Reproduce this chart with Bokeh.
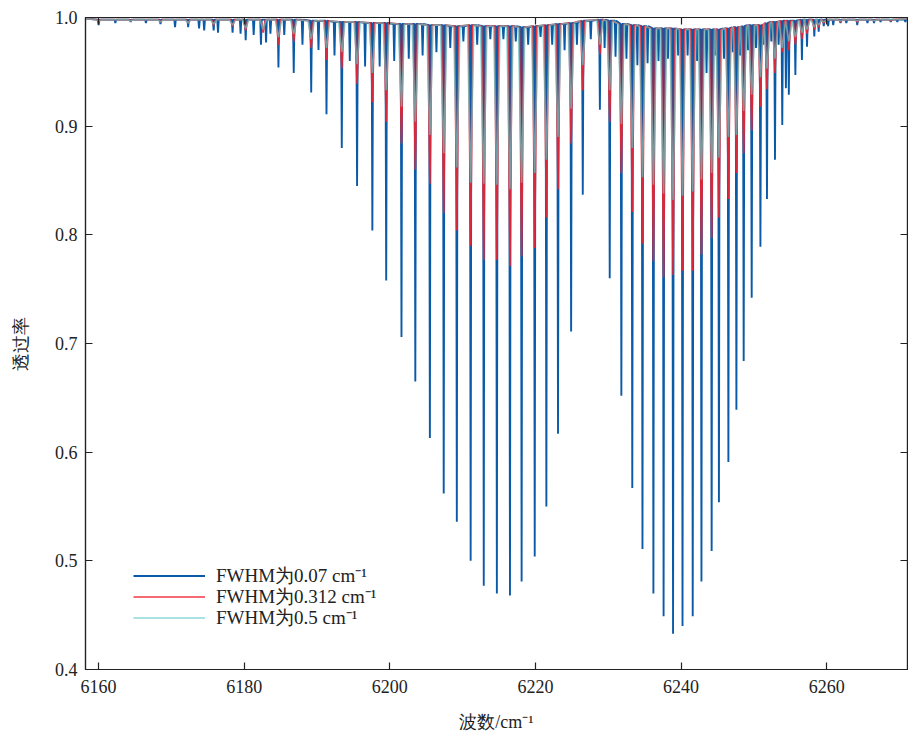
from bokeh.plotting import figure
from bokeh.models import (LinearAxis, FixedTicker, PrintfTickFormatter, Range1d, Legend,
                          LegendItem, CustomJSTickFormatter)
from bokeh.embed import file_html
from bokeh.resources import INLINE

# ---------------- data ----------------
# main absorption lines: wavenumber (cm^-1) and minimum transmittance per FWHM
line_nu = [6184.7, 6186.8, 6189.2, 6191.3, 6193.4, 6195.5, 6197.6, 6199.5, 6201.6, 6203.5,
           6205.5, 6207.4, 6209.2, 6211.1, 6212.9, 6214.7, 6216.5, 6218.1, 6219.9, 6221.5,
           6223.1, 6224.9, 6226.5, 6228.85,
           6230.2, 6231.8, 6233.3, 6234.7, 6236.2, 6237.6, 6238.9, 6240.2, 6241.6, 6242.8,
           6244.2, 6245.2, 6246.5, 6247.6, 6248.6, 6249.7, 6250.9, 6251.8, 6252.9, 6253.9,
           6254.8, 6255.7, 6256.6, 6257.3, 6258.3, 6258.9]
# local maxima of the spectrum next to each main line
line_top = [0.998, 0.998, 0.997, 0.997, 0.996, 0.996, 0.995, 0.995, 0.994, 0.994,
            0.993, 0.993, 0.992, 0.993, 0.992, 0.992, 0.992, 0.991, 0.992, 0.993,
            0.994, 0.995, 0.997, 0.998,
            0.997, 0.994, 0.993, 0.992, 0.990, 0.990, 0.990, 0.989, 0.989, 0.989,
            0.989, 0.989, 0.990, 0.991, 0.992, 0.993, 0.993, 0.995, 0.996, 0.997,
            0.997, 0.997, 0.998, 0.998, 0.998, 0.998]
t_007 = [0.954, 0.949, 0.931, 0.911, 0.880, 0.845, 0.804, 0.758, 0.706, 0.665,
         0.613, 0.562, 0.536, 0.500, 0.477, 0.470, 0.468, 0.481, 0.504, 0.550,
         0.617, 0.711, 0.837, 0.915,
         0.760, 0.652, 0.567, 0.511, 0.470, 0.449, 0.433, 0.440, 0.449, 0.481,
         0.509, 0.554, 0.591, 0.639, 0.684, 0.742, 0.789, 0.833, 0.869, 0.901,
         0.929, 0.947, 0.961, 0.973, 0.9825, 0.987]
t_0312 = [0.975, 0.978, 0.972, 0.961, 0.953, 0.939, 0.922, 0.904, 0.884, 0.860,
          0.847, 0.820, 0.804, 0.790, 0.777, 0.777, 0.771, 0.780, 0.788, 0.816,
          0.842, 0.884, 0.933, 0.966,
          0.904, 0.857, 0.821, 0.792, 0.776, 0.761, 0.763, 0.767, 0.767, 0.782,
          0.797, 0.816, 0.833, 0.857, 0.875, 0.896, 0.918, 0.934, 0.949, 0.968,
          0.970, 0.975, 0.980, 0.985, 0.989, 0.991]
t_05 = [0.982, 0.985, 0.980, 0.972, 0.968, 0.957, 0.949, 0.933, 0.918, 0.904,
        0.892, 0.875, 0.862, 0.848, 0.847, 0.846, 0.842, 0.848, 0.857, 0.869,
        0.890, 0.916, 0.956, 0.975,
        0.933, 0.902, 0.880, 0.853, 0.846, 0.838, 0.832, 0.836, 0.840, 0.851,
        0.857, 0.871, 0.890, 0.892, 0.914, 0.929, 0.945, 0.953, 0.962, 0.972,
        0.978, 0.982, 0.986, 0.989, 0.991, 0.993]

# weak lines (only resolved at FWHM 0.07)
weak_nu = [6160.0, 6162.3, 6164.4, 6166.5, 6168.5, 6170.5, 6172.3, 6173.8, 6174.5, 6175.8,
           6176.4, 6178.4, 6179.5, 6180.2, 6181.3, 6182.3, 6183.0, 6183.6, 6185.5,
           6188.0, 6190.2, 6192.4, 6194.5, 6196.6, 6198.6, 6200.6, 6202.6, 6204.5, 6206.4,
           6208.3, 6210.1, 6212.0, 6213.8, 6215.6, 6217.3, 6219.0, 6220.7, 6222.3, 6224.0,
           6225.7, 6227.6, 6229.5, 6231.0, 6232.5, 6234.0, 6235.4, 6236.9, 6238.2, 6239.6,
           6240.9, 6242.2, 6243.5, 6244.7, 6245.9, 6247.1, 6248.1, 6249.2, 6250.3, 6251.3,
           6252.4, 6253.4, 6254.4,
           6259.6, 6260.2, 6260.9, 6261.9, 6262.7, 6264.2, 6265.6, 6266.5, 6267.4, 6268.8,
           6269.7, 6270.8]
weak_t = [0.993, 0.995, 0.996, 0.995, 0.994, 0.991, 0.991, 0.990, 0.988, 0.988,
          0.986, 0.986, 0.985, 0.979, 0.984, 0.975, 0.977, 0.985, 0.984,
          0.975, 0.970, 0.965, 0.960, 0.955, 0.955, 0.960, 0.962, 0.965, 0.968,
          0.972, 0.978, 0.975, 0.980, 0.980, 0.978, 0.975, 0.982, 0.975, 0.970,
          0.975, 0.980, 0.972, 0.964, 0.962, 0.956, 0.958, 0.960, 0.962, 0.965,
          0.965, 0.960, 0.949, 0.965, 0.962, 0.968, 0.965, 0.970, 0.972, 0.975,
          0.978, 0.975, 0.935,
          0.992, 0.992, 0.993, 0.995, 0.995, 0.993, 0.995, 0.995, 0.996, 0.996,
          0.996, 0.996]

# small wing dips of the smoothed spectra
wing_nu = [6160.0, 6164.4, 6168.5, 6172.3, 6175.8, 6178.4, 6180.2, 6182.6,
           6259.6, 6261.9, 6264.2, 6266.5, 6268.8]
wing_t_0312 = [0.996, 0.997, 0.996, 0.995, 0.993, 0.992, 0.988, 0.986,
               0.995, 0.996, 0.996, 0.997, 0.997]
wing_t_05 = [0.997, 0.997, 0.996, 0.995, 0.994, 0.993, 0.990, 0.989,
             0.996, 0.997, 0.997, 0.997, 0.998]
WING_TOP = 0.998

labels = ["FWHM为0.07 cm⁻¹", "FWHM为0.312 cm⁻¹", "FWHM为0.5 cm⁻¹"]
colors = ["#0a5aa8", "#ee2430", "#5cc8c8"]
x_ticks = [6160, 6180, 6200, 6220, 6240, 6260]
y_ticks = [0.4, 0.5, 0.6, 0.7, 0.8, 0.9, 1.0]
X0, X1 = 6158.2, 6271.1


def local_top(nu):
    """Upper level next to a line: the maximum read beside the closest main line."""
    if nu < line_nu[0] - 1.0 or nu > line_nu[-1] + 0.5:
        return WING_TOP
    k = min(range(len(line_nu)), key=lambda i: abs(line_nu[i] - nu))
    return line_top[k]


def profile(nus, ts, half):
    pts = sorted(zip(nus, ts))
    xs, ys = [X0], [0.999]
    for c, m in pts:
        t = local_top(c)
        xs += [c - half, c, c + half]
        ys += [t, m, t]
    xs.append(X1)
    ys.append(0.999)
    return xs, ys


FONT = "Liberation Serif"
INK = "#222222"

p = figure(width=908, height=735, output_backend="svg", toolbar_location=None,
           x_range=Range1d(X0, X1), y_range=Range1d(0.4, 1.0),
           min_border_left=85, min_border_top=17, min_border_right=1, min_border_bottom=66)
p.grid.visible = False
p.outline_line_color = INK
p.outline_line_width = 1.2
p.background_fill_color = "white"

bx, by = profile(line_nu + weak_nu, t_007 + weak_t, 0.1)
rx, ry = profile(line_nu + wing_nu, t_0312 + wing_t_0312, 0.3)
cx, cy = profile(line_nu + wing_nu, t_05 + wing_t_05, 0.45)

r1 = p.line(bx, by, line_color=colors[0], line_width=1.9)
r2 = p.line(rx, ry, line_color=colors[1], line_width=1.7, line_alpha=0.9)
r3 = p.line(cx, cy, line_color=colors[2], line_width=1.6, line_alpha=0.7)

bottom_ax = p.below[0]
left_ax = p.left[0]

bottom_ax.ticker = FixedTicker(ticks=x_ticks)
bottom_ax.formatter = PrintfTickFormatter(format="%d")
bottom_ax.axis_label = "波数/cm⁻¹"
bottom_ax.axis_label_standoff = 16
bottom_ax.major_label_standoff = 10

left_ax.ticker = FixedTicker(ticks=y_ticks)
left_ax.formatter = PrintfTickFormatter(format="%.1f")
left_ax.axis_label = "透过率"
left_ax.axis_label_standoff = 21
left_ax.major_label_standoff = 8

blank = CustomJSTickFormatter(code="return '';")
top_ax = LinearAxis(ticker=FixedTicker(ticks=x_ticks), formatter=blank, major_label_standoff=0)
right_ax = LinearAxis(ticker=FixedTicker(ticks=y_ticks), formatter=blank, major_label_standoff=0)
p.add_layout(top_ax, "above")
p.add_layout(right_ax, "right")

for ax in [bottom_ax, left_ax, top_ax, right_ax]:
    ax.major_tick_in = 7
    ax.major_tick_out = 0
    ax.minor_tick_in = 0
    ax.minor_tick_out = 0
    ax.axis_line_color = INK
    ax.axis_line_width = 1.2
    ax.major_tick_line_color = INK
    ax.major_tick_line_width = 1.2
    ax.major_label_text_font = FONT
    ax.major_label_text_color = INK
    ax.major_label_text_font_size = "18px"
    ax.axis_label_text_font = FONT
    ax.axis_label_text_font_style = "normal"
    ax.axis_label_text_color = INK
    ax.axis_label_text_font_size = "18px"

# one legend per row so that rows sit 21 px apart as in the reference
row_y = [80, 59, 38]
for lab, rend, yy in zip(labels, [r1, r2, r3], row_y):
    lg = Legend(items=[LegendItem(label=lab, renderers=[rend])],
                location=(48, yy), border_line_alpha=0, background_fill_alpha=0,
                glyph_width=72, glyph_height=21, label_height=21, spacing=0,
                padding=0, label_standoff=11, margin=0,
                label_text_font=FONT, label_text_font_size="19px", label_text_color=INK)
    p.add_layout(lg, "center")

open("out.html", "w").write(file_html(p, INLINE))
